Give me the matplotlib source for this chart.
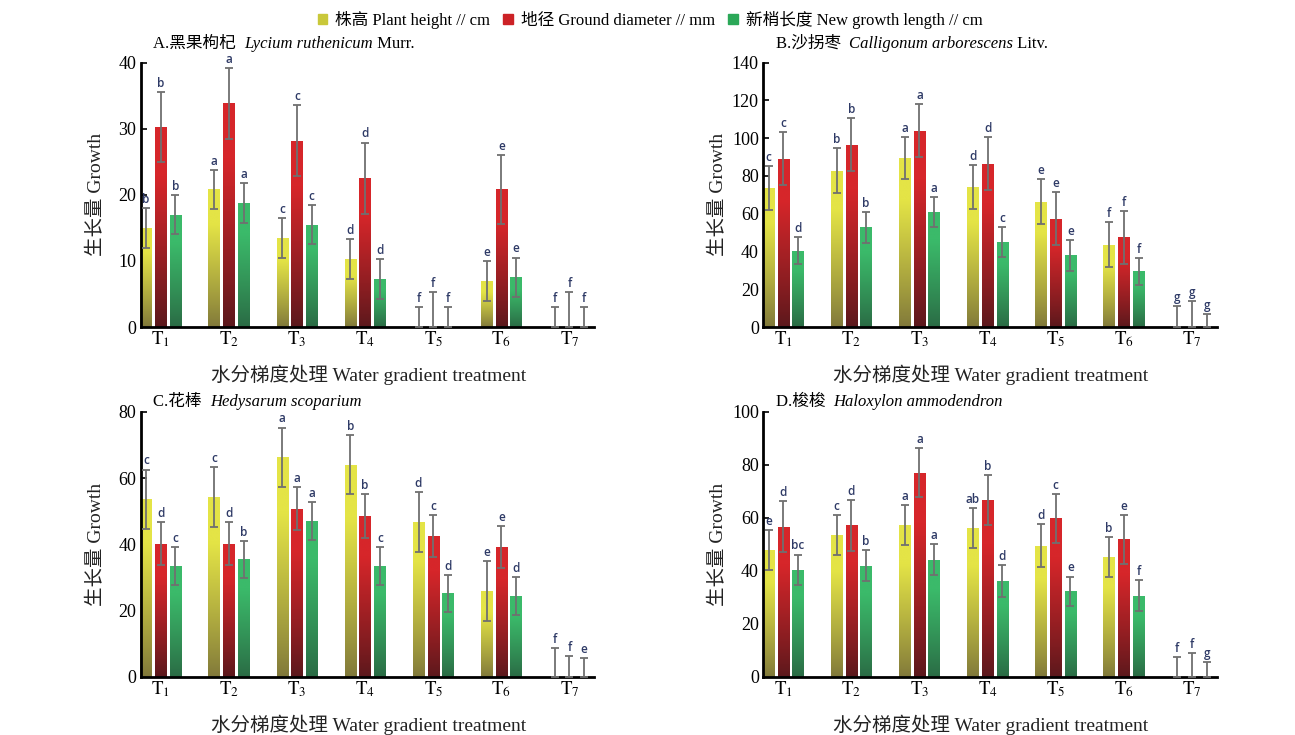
import numpy as np
import matplotlib
matplotlib.use('Agg')
import matplotlib.pyplot as plt
from matplotlib.colors import to_rgb
from matplotlib.patches import Rectangle

plt.rcParams['mathtext.fontset'] = 'stix'

groups = ['T1', 'T2', 'T3', 'T4', 'T5', 'T6', 'T7']
series_names = ['株高 Plant height // cm', '地径 Ground diameter // mm', '新梢长度 New growth length // cm']

# A. Lycium ruthenicum
A_h = [15.0, 20.8, 13.5, 10.3, 0, 7.0, 0]
A_h_err = [3.0, 3.0, 3.0, 3.0, 3.0, 3.0, 3.0]
A_d = [30.3, 33.8, 28.2, 22.5, 0, 20.8, 0]
A_d_err = [5.3, 5.4, 5.3, 5.4, 5.3, 5.2, 5.3]
A_n = [17.0, 18.8, 15.5, 7.3, 0, 7.5, 0]
A_n_err = [3.0, 3.0, 2.9, 3.0, 3.0, 3.0, 3.0]
A_letters = [list('bacdfef'), list('bacdfef'), list('bacdfef')]

# B. Calligonum arborescens
B_h = [73.5, 82.8, 89.6, 74.0, 66.4, 43.5, 0]
B_h_err = [11.5, 12, 11, 11.5, 12, 12, 11.2]
B_d = [89.0, 96.5, 103.9, 86.4, 57.2, 47.4, 0]
B_d_err = [14, 14, 14, 14, 14, 14, 13.6]
B_n = [40.4, 52.7, 60.9, 44.8, 37.9, 29.4, 0]
B_n_err = [7, 8, 8, 8, 8, 7, 7]
B_letters = [list('cbadefg'), list('cbadefg'), list('dbacefg')]

# C. Hedysarum scoparium
C_h = [53.6, 54.3, 66.3, 64.1, 46.8, 25.9, 0]
C_h_err = [9, 9, 9, 9, 9, 9, 8.7]
C_d = [40.2, 40.2, 50.8, 48.5, 42.4, 39.2, 0]
C_d_err = [6.5, 6.5, 6.5, 6.7, 6.3, 6.4, 6.3]
C_n = [33.4, 35.5, 47.1, 33.4, 25.2, 24.3, 0]
C_n_err = [5.7, 5.6, 5.7, 5.7, 5.6, 5.7, 5.7]
C_letters = [list('ccabdef'), list('ddabcef'), list('cbacdde')]

# D. Haloxylon ammodendron
D_h = [47.7, 53.4, 57.4, 56.2, 49.5, 45.2, 0]
D_h_err = [7.6, 7.6, 7.5, 7.6, 8, 7.5, 7.3]
D_d = [56.6, 57.1, 77.1, 66.7, 59.8, 51.9, 0]
D_d_err = [9.6, 9.6, 9.4, 9.3, 9.3, 9.3, 9]
D_n = [40.3, 41.9, 44.2, 36.2, 32.3, 30.6, 0]
D_n_err = [5.8, 5.8, 5.9, 6, 5.5, 5.9, 5.3]
D_letters = [['e', 'c', 'a', 'ab', 'd', 'b', 'f'], list('ddabcef'), ['bc', 'b', 'a', 'd', 'e', 'f', 'g']]

top_cols = ['#e4e446', '#d6262a', '#3bba6a']
bot_cols = ['#80783a', '#5a181c', '#2a6a44']
legend_cols = ['#c9c83a', '#cc2226', '#2ba858']

serif = ['Liberation Serif', 'Noto Sans CJK SC']

panels = [
    ('A.黑果枸杞  ', 'Lycium ruthenicum', ' Murr.', [A_h, A_d, A_n], [A_h_err, A_d_err, A_n_err], A_letters, 40, 10),
    ('B.沙拐枣  ', 'Calligonum arborescens', ' Litv.', [B_h, B_d, B_n], [B_h_err, B_d_err, B_n_err], B_letters, 140, 20),
    ('C.花棒  ', 'Hedysarum scoparium', '', [C_h, C_d, C_n], [C_h_err, C_d_err, C_n_err], C_letters, 80, 20),
    ('D.梭梭  ', 'Haloxylon ammodendron', '', [D_h, D_d, D_n], [D_h_err, D_d_err, D_n_err], D_letters, 100, 20),
]
W, H = 1295, 735
rects = [
    [140.5/W, 1-327/H, 453.5/W, 264.5/H],
    [763/W, 1-327/H, 453.5/W, 264.5/H],
    [140.5/W, 1-676.5/H, 453.5/W, 264.5/H],
    [763/W, 1-676.5/H, 453.5/W, 264.5/H],
]
title_y = [1.07, 1.07, 1.039, 1.039]

fig = plt.figure(figsize=(12.95, 7.35), dpi=100)
renderer = fig.canvas.get_renderer()


def gradient(top, bot):
    t = np.linspace(0, 1, 200)
    f = np.clip(t / 0.75, 0, 1) ** 0.9
    a, b = np.array(to_rgb(top)), np.array(to_rgb(bot))
    img = b[None, :] + (a - b)[None, :] * f[:, None]
    return img[:, None, :]


def seq_text(ax, x, y, pieces):
    # pieces laid out left to right, each with its own style
    for s, kw in pieces:
        if not s:
            continue
        t = ax.text(x, y, s, transform=ax.transAxes, va='center', ha='left', **kw)
        bb = t.get_window_extent(renderer=renderer)
        x = ax.transAxes.inverted().transform((bb.x1, bb.y0))[0]


x = np.arange(1, 8)
offsets = [-0.216, 0, 0.216]
width = 0.168

for (t1, t2, t3, vals, errs, letters, ymax, ystep), rect, ty in zip(panels, rects, title_y):
    ax = fig.add_axes(rect)
    for k in range(3):
        v = np.array(vals[k], dtype=float)
        e = np.array(errs[k], dtype=float)
        bars = ax.bar(x + offsets[k], v, width, color='none', edgecolor='none', zorder=2)
        img = gradient(top_cols[k], bot_cols[k])
        for p in bars:
            if p.get_height() <= 0:
                continue
            im = ax.imshow(img, extent=[p.get_x(), p.get_x() + p.get_width(), 0, p.get_height()],
                           origin='lower', aspect='auto', zorder=2, interpolation='bilinear')
            im.set_clip_path(p)
        lower = np.minimum(e, v)
        ax.errorbar(x + offsets[k], v, yerr=[lower, e], fmt='none', ecolor='#707070',
                    elinewidth=1.3, capsize=2.7, capthick=1.3, zorder=3)
        for i in range(7):
            ax.annotate(letters[k][i], (x[i] + offsets[k], v[i] + e[i]), xytext=(0, 1.5),
                        textcoords='offset points', ha='center', va='bottom',
                        fontsize=8.5, color='#2e3a66', family='Open Sans', fontweight='semibold')
    ax.set_xlim(0.703, 7.36)
    ax.set_ylim(0, ymax)
    ax.set_yticks(np.arange(0, ymax + 1, ystep))
    ax.set_xticks(x)
    ax.set_xticklabels([r'$\mathrm{T}_{%d}$' % i for i in x], fontsize=13.5)
    ax.tick_params(axis='x', length=0, pad=2)
    ax.tick_params(axis='y', direction='in', length=4, width=1.2, labelsize=13, pad=3)
    for lab in ax.get_yticklabels():
        lab.set_family(serif)
    for s in ['top', 'right']:
        ax.spines[s].set_visible(False)
    for s in ['left', 'bottom']:
        ax.spines[s].set_linewidth(2)
    ax.text(-0.1, 0.5, '生长量 Growth', transform=ax.transAxes, rotation=90,
            ha='center', va='center', fontsize=14, family=serif, color='#222222')
    ax.text(0.503, -0.182, '水分梯度处理 Water gradient treatment', transform=ax.transAxes,
            ha='center', va='center', fontsize=14, family=serif, color='#222222')
    seq_text(ax, 0.0276, ty, [(t1, dict(fontsize=12, family=serif)),
                              (t2, dict(fontsize=12, family='Liberation Serif', style='italic')),
                              (t3, dict(fontsize=12, family='Liberation Serif'))])

handles = [Rectangle((0, 0), 1, 1, color=c) for c in legend_cols]
fig.legend(handles, series_names, loc='center', bbox_to_anchor=(0.502, 1 - 20/H), ncol=3,
           frameon=False, handlelength=0.55, handleheight=0.55, handletextpad=0.5,
           columnspacing=0.8, prop={'family': serif, 'size': 12})

fig.savefig('out.png', dpi=100)
